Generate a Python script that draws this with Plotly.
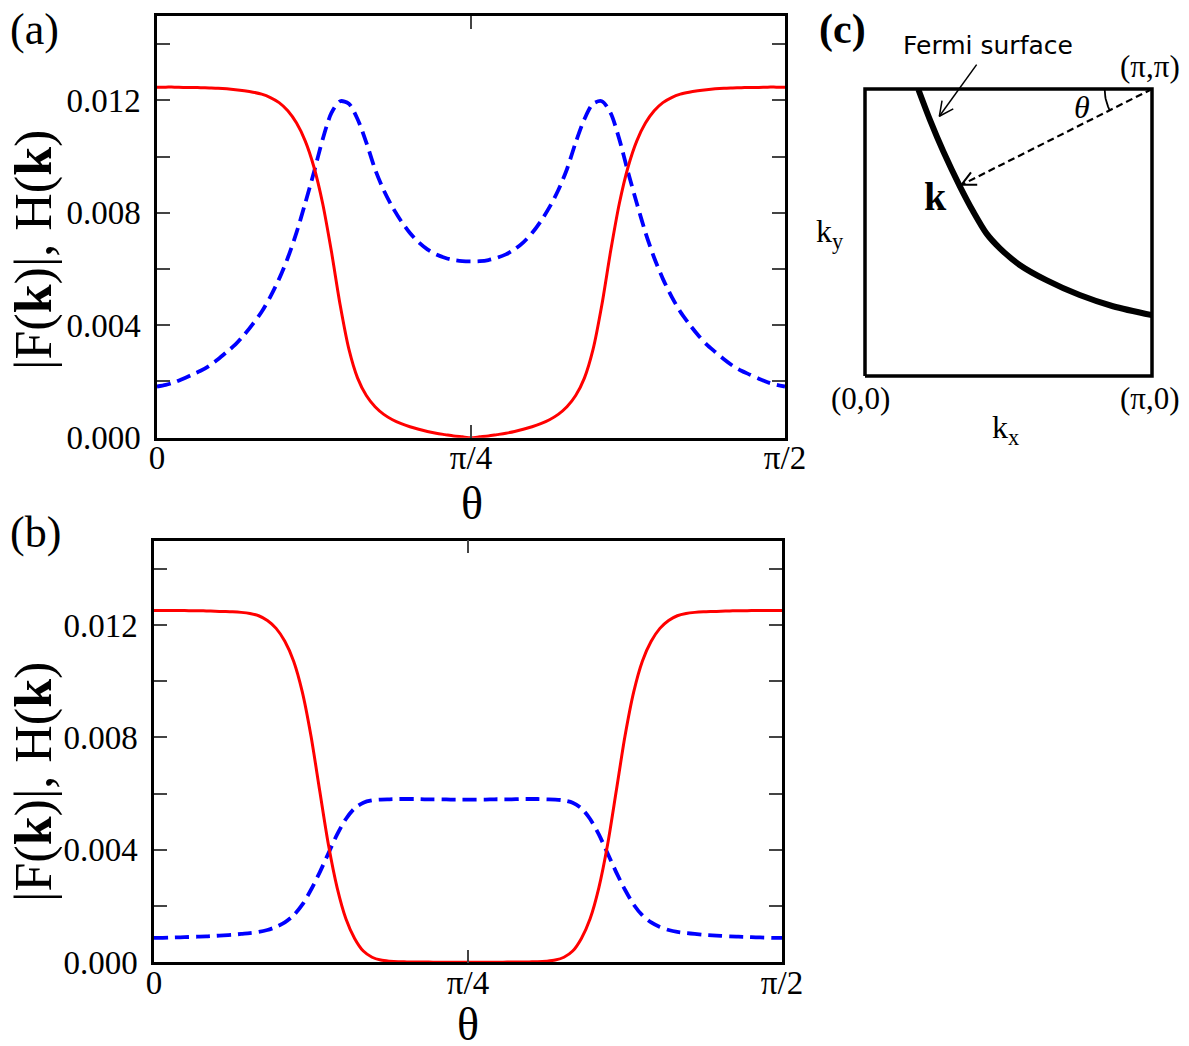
import numpy as np
import plotly.graph_objects as go

# ---------------- data (theta in degrees, values in units of 1e-3) ----------------
SCALE = 1e-3
theta_deg = [0, 1.25, 2.5, 3.75, 5, 6.25, 7.5, 8.75, 10, 11.25, 12.5, 13.75, 15, 16.25, 17.5, 18.75,
             20, 21.25, 22.5, 23.75, 25, 26.25, 27.5, 28.75, 30, 31.25, 32.5, 33.75, 35, 36.25,
             37.5, 38.75, 40, 41.25, 42.5, 43.75, 45,
             46.25, 47.5, 48.75, 50, 51.25, 52.5, 53.75, 55, 56.25, 57.5, 58.75, 60, 61.25, 62.5,
             63.75, 65, 66.25, 67.5, 68.75, 70, 71.25, 72.5, 73.75, 75, 76.25, 77.5, 78.75, 80,
             81.25, 82.5, 83.75, 85, 86.25, 87.5, 88.75, 90]

F_a = [12.47, 12.47, 12.47, 12.46, 12.46, 12.45, 12.44, 12.43, 12.41, 12.38, 12.34, 12.29, 12.22,
       12.10, 11.92, 11.63, 11.19, 10.55, 9.62, 8.32, 6.62, 4.72, 3.15, 2.12, 1.50, 1.10, 0.83,
       0.64, 0.50, 0.39, 0.30, 0.22, 0.16, 0.11, 0.06, 0.03, 0.00,
       0.03, 0.06, 0.11, 0.16, 0.22, 0.30, 0.39, 0.50, 0.64, 0.83, 1.10, 1.50, 2.12, 3.15, 4.72,
       6.62, 8.32, 9.62, 10.55, 11.19, 11.63, 11.92, 12.10, 12.22, 12.29, 12.34, 12.38, 12.41,
       12.43, 12.44, 12.45, 12.46, 12.46, 12.47, 12.47, 12.47]
H_a = [1.82, 1.88, 1.97, 2.10, 2.24, 2.38, 2.56, 2.79, 3.05, 3.32, 3.66, 4.05, 4.48, 5.02, 5.65,
       6.40, 7.30, 8.35, 9.45, 10.62, 11.55, 11.97, 11.88, 11.33, 10.50, 9.55, 8.80, 8.20, 7.70,
       7.28, 6.95, 6.70, 6.52, 6.40, 6.32, 6.28, 6.27,
       6.28, 6.32, 6.40, 6.52, 6.70, 6.95, 7.28, 7.70, 8.20, 8.80, 9.55, 10.50, 11.33, 11.88,
       11.97, 11.55, 10.62, 9.45, 8.35, 7.30, 6.40, 5.65, 5.02, 4.48, 4.05, 3.66, 3.32, 3.05,
       2.79, 2.56, 2.38, 2.24, 2.10, 1.97, 1.88, 1.82]

F_b = [12.52, 12.52, 12.52, 12.52, 12.51, 12.51, 12.50, 12.49, 12.48, 12.47, 12.45, 12.41, 12.33,
       12.16, 11.88, 11.42, 10.72, 9.62, 8.05, 6.10, 4.18, 2.65, 1.55, 0.85, 0.40, 0.18, 0.08,
       0.04, 0.02, 0.015, 0.01, 0.01, 0.005, 0.005, 0.0, 0.0, 0.0,
       0.0, 0.0, 0.005, 0.005, 0.01, 0.01, 0.015, 0.02, 0.04, 0.08, 0.18, 0.40, 0.85, 1.55, 2.65,
       4.18, 6.10, 8.05, 9.62, 10.72, 11.42, 11.88, 12.16, 12.33, 12.41, 12.45, 12.47, 12.48,
       12.49, 12.50, 12.51, 12.51, 12.52, 12.52, 12.52, 12.52]
H_b = [0.87, 0.87, 0.88, 0.89, 0.90, 0.91, 0.92, 0.94, 0.96, 0.98, 1.01, 1.04, 1.08, 1.15, 1.26,
       1.42, 1.67, 2.05, 2.58, 3.20, 3.88, 4.55, 5.10, 5.48, 5.68, 5.76, 5.79, 5.80, 5.81, 5.81,
       5.81, 5.80, 5.80, 5.80, 5.79, 5.79, 5.79,
       5.79, 5.79, 5.80, 5.80, 5.80, 5.81, 5.81, 5.81, 5.80, 5.79, 5.76, 5.68, 5.48, 5.10, 4.55,
       3.88, 3.20, 2.58, 2.05, 1.67, 1.42, 1.26, 1.15, 1.08, 1.04, 1.01, 0.98, 0.96, 0.94, 0.92,
       0.91, 0.90, 0.89, 0.88, 0.87, 0.87]

x_tickvals = [0, np.pi / 4, np.pi / 2]
x_ticktext = ["0", "π/4", "π/2"]
y_tickvals = [0, 0.002, 0.004, 0.006, 0.008, 0.010, 0.012, 0.014]
y_ticktext = ["0.000", "", "0.004", "", "0.008", "", "0.012", ""]

# schematic (c): Fermi surface in units of pi
fs_kx = [0.186, 0.226, 0.273, 0.331, 0.377, 0.423, 0.470, 0.539, 0.632, 0.748, 0.864, 1.0]
fs_ky = [0.998, 0.893, 0.782, 0.660, 0.573, 0.497, 0.445, 0.387, 0.334, 0.282, 0.243, 0.212]
bz_kx = [0, 1, 1, 0, 0]
bz_ky = [0, 0, 1, 1, 0]
k_point = (0.336, 0.666)
corner = (1.0, 1.0)
fs_arrow_tail = (0.389, 1.085)
fs_arrow_tip = (0.259, 0.905)

# ---------------- figure ----------------
# the page body has an 8px margin, so the figure is drawn 8px smaller and positions are compensated
OFF = 8
FW, FH = 1189 - OFF, 1046 - OFF
SERIF = "Liberation Serif, Times New Roman, serif"


def X(px):
    return (px - OFF) / FW


def Y(py):
    return 1 - (py - OFF) / FH


th = np.deg2rad(theta_deg)

fig = go.Figure()
for xa, ya, F, Hk in (("x", "y", F_a, H_a), ("x2", "y2", F_b, H_b)):
    fig.add_trace(go.Scatter(x=th, y=np.array(Hk) * SCALE, xaxis=xa, yaxis=ya, mode="lines",
                             line=dict(color="#0000ff", width=3.8, dash="14px,7px", shape="spline", smoothing=0.8)))
    fig.add_trace(go.Scatter(x=th, y=np.array(F) * SCALE, xaxis=xa, yaxis=ya, mode="lines",
                             line=dict(color="#ff0000", width=3, shape="spline", smoothing=0.8)))


def wings(tip, tail, length=0.055, half=np.deg2rad(26)):
    d = np.array(tail) - np.array(tip)
    d = d / np.linalg.norm(d)
    out_x, out_y = [], []
    for s in (half, -half):
        r = np.array([d[0] * np.cos(s) - d[1] * np.sin(s), d[0] * np.sin(s) + d[1] * np.cos(s)])
        p = np.array(tip) + length * r
        out_x.append(p[0]); out_y.append(p[1])
    return [out_x[0], tip[0], out_x[1]], [out_y[0], tip[1], out_y[1]]


# panel (c)
fig.add_trace(go.Scatter(x=bz_kx, y=bz_ky, xaxis="x3", yaxis="y3", mode="lines",
                         line=dict(color="black", width=3.5)))
fig.add_trace(go.Scatter(x=fs_kx, y=fs_ky, xaxis="x3", yaxis="y3", mode="lines",
                         line=dict(color="black", width=6, shape="spline", smoothing=0.8)))
fig.add_trace(go.Scatter(x=[corner[0], k_point[0]], y=[corner[1], k_point[1]], xaxis="x3", yaxis="y3",
                         mode="lines", line=dict(color="black", width=2.2, dash="7px,4px")))
wx, wy = wings(k_point, corner)
fig.add_trace(go.Scatter(x=wx, y=wy, xaxis="x3", yaxis="y3", mode="lines",
                         line=dict(color="black", width=2)))
fig.add_trace(go.Scatter(x=[fs_arrow_tail[0], fs_arrow_tip[0]], y=[fs_arrow_tail[1], fs_arrow_tip[1]],
                         xaxis="x3", yaxis="y3", mode="lines", line=dict(color="black", width=1.5)))
wx, wy = wings(fs_arrow_tip, fs_arrow_tail)
fig.add_trace(go.Scatter(x=wx, y=wy, xaxis="x3", yaxis="y3", mode="lines",
                         line=dict(color="black", width=1.5)))
# angle arc
ang = np.linspace(0, np.arctan2(1 - k_point[1], 1 - k_point[0]), 12)
rad = 0.165
fig.add_trace(go.Scatter(x=1 - rad * np.cos(ang), y=1 - rad * np.sin(ang), xaxis="x3", yaxis="y3",
                         mode="lines", line=dict(color="black", width=1.8)))

common_x = dict(range=[0, np.pi / 2], showline=True, linecolor="black", linewidth=2.5, mirror="ticks",
                ticks="inside", ticklen=13, tickwidth=1.5, tickcolor="#444", showgrid=False, zeroline=False,
                automargin=False, tickvals=x_tickvals, ticktext=x_ticktext, ticklabelstandoff=-11,
                tickfont=dict(family=SERIF, size=33, color="black"))
common_y = dict(range=[0, 0.015], showline=True, linecolor="black", linewidth=2.5, mirror="ticks",
                ticks="inside", ticklen=13, tickwidth=1.5, tickcolor="#444", showgrid=False, zeroline=False,
                automargin=False, tickvals=y_tickvals, ticktext=y_ticktext, ticklabelstandoff=7,
                tickfont=dict(family=SERIF, size=33, color="black"))
hidden = dict(visible=False, showgrid=False, zeroline=False, automargin=False)

fig.update_layout(
    width=FW, height=FH, margin=dict(l=0, r=0, t=0, b=0, pad=0, autoexpand=False), autosize=False,
    paper_bgcolor="white", plot_bgcolor="white", showlegend=False,
    xaxis=dict(domain=[X(157), X(785)], anchor="y", **common_x),
    yaxis=dict(domain=[Y(437.7), Y(16)], anchor="x", **common_y),
    xaxis2=dict(domain=[X(154), X(782)], anchor="y2", **common_x),
    yaxis2=dict(domain=[Y(962.3), Y(540.7)], anchor="x2", **common_y),
    xaxis3=dict(domain=[X(800), 1.0], anchor="y3", range=[(800 - 865) / 287, (1189 - 865) / 287], **hidden),
    yaxis3=dict(domain=[Y(460), 1.0], anchor="x3", range=[(376 - 460) / 287, (376 - OFF) / 287], **hidden),
)


def pa(text, px, py, size, family=SERIF, angle=0):
    return dict(text=text, x=X(px), y=Y(py), xref="paper", yref="paper", showarrow=False,
                xanchor="center", yanchor="middle", textangle=angle,
                font=dict(family=family, size=size, color="black"))


def ca(text, u, v, size, family=SERIF):
    return dict(text=text, x=u, y=v, xref="x3", yref="y3", showarrow=False,
                xanchor="center", yanchor="middle", font=dict(family=family, size=size, color="black"))


ytitle = "|F(<b>k</b>)|, H(<b>k</b>)"
annotations = [
    pa("(a)", 34, 30, 44), pa("(b)", 35, 532, 44),
    pa(ytitle, 34, 250, 52, angle=-90), pa(ytitle, 34, 782, 52, angle=-90),
    pa("θ", 472, 503, 46), pa("θ", 468, 1024, 46),
    pa("<b>(c)</b>", 842, 30, 42),
    ca("Fermi surface", 0.429, 1.153, 25, family="DejaVu Sans"),
    ca("(π,π)", 0.993, 1.077, 31),
    ca("<i>θ</i>", 0.755, 0.938, 32),
    ca("<b>k</b>", 0.244, 0.625, 40),
    ca("k<sub>y</sub>", -0.122, 0.498, 32),
    ca("(0,0)", -0.017, -0.077, 31),
    ca("(π,0)", 0.993, -0.077, 31),
    ca("k<sub>x</sub>", 0.488, -0.188, 32),
]
fig.update_layout(annotations=annotations)

fig.write_html("out.html")
